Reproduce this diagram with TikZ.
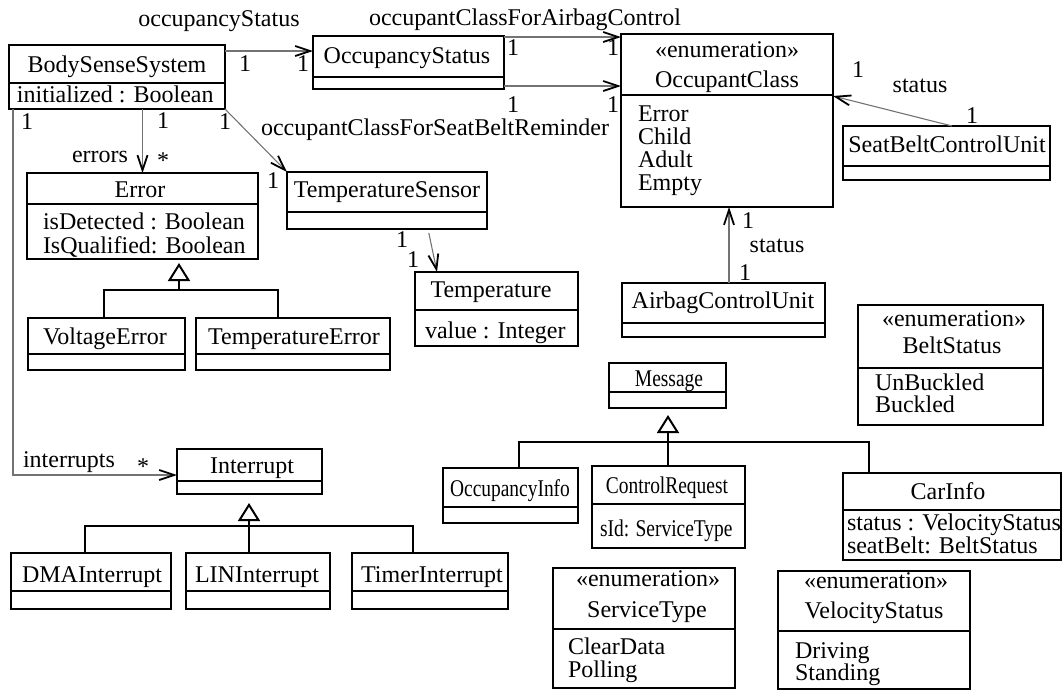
\documentclass[tikz,border=0pt]{standalone}
\usepackage{fontspec}
\usepackage{graphicx}
\setmainfont{Liberation Serif}
\usetikzlibrary{arrows.meta,fit}

% class box: name, left, top, right, divider, bottom (pixel units)
\newcommand{\umlbox}[6]{%
  \node[clsbox, fit={(#2,#3) (#4,#6)}] (#1) {};
  \draw[clsline] (#1.west |- 0,#5) -- (#1.east |- 0,#5);
}
% centred text on a baseline / left-aligned text on a baseline
\newcommand{\ctext}[4]{\node[txt] (#1) at (#2,#3) {#4};}
\newcommand{\ltext}[4]{\node[txt, anchor=base west] (#1) at (#2,#3) {#4};}
% horizontally condensed lettering
\newcommand{\narrowtext}[1]{\scalebox{0.81}[1]{#1}}

\begin{document}
\begin{tikzpicture}[x=0.5pt, y=-0.5pt,
  clsbox/.style={draw, line width=1.1pt, inner sep=0pt, outer sep=0pt},
  clsline/.style={line width=1.1pt},
  txt/.style={font=\fontsize{12}{14}\selectfont, inner sep=0pt, outer sep=0pt, anchor=base},
  assoc/.style={draw=black!55, line width=0.55pt,
    -{Straight Barb[length=7.5pt, width=5pt, line width=0.9pt, color=black]}},
  genl/.style={draw=black, line width=1pt},
  gentip/.style={genl, -{Triangle[open, length=9pt, width=11pt, line width=1pt]}}]
\useasboundingbox (0,0) rectangle (1062,691);

% ---- class boxes ----
\umlbox{bss}{9}{45}{225}{83}{109}
\umlbox{ost}{313}{36}{504}{77}{89}
\umlbox{occ}{621}{34}{833}{95}{207}
\umlbox{tsen}{287}{172}{487}{212}{229}
\umlbox{temp}{415}{272}{578}{310}{346}
\umlbox{err}{27}{173}{258}{204}{259}
\umlbox{verr}{28}{318}{185}{354}{370}
\umlbox{terr}{196}{318}{390}{354}{370}
\umlbox{sbcu}{843}{126}{1050}{166}{180}
\umlbox{acu}{622}{283}{825}{323}{337}
\umlbox{belt}{858}{305}{1043}{368}{425}
\umlbox{msg}{609}{363}{726}{392}{408}
\umlbox{oinfo}{443}{468}{578}{507}{523}
\umlbox{creq}{592}{466}{745}{504}{548}
\umlbox{cinfo}{843}{473}{1061}{510}{560}
\umlbox{stype}{553}{568}{735}{629}{688}
\umlbox{vstat}{778}{571}{970}{631}{689}
\umlbox{intr}{177}{449}{322}{481}{494}
\umlbox{dma}{11}{553}{171}{591}{609}
\umlbox{lin}{186}{553}{330}{591}{609}
\umlbox{timer}{352}{553}{508}{591}{609}

% ---- class contents ----
\ctext{bssN}{117}{72}{BodySenseSystem}
\ltext{bssA}{17}{102}{initialized : Boolean}
\ctext{ostN}{407}{63}{OccupancyStatus}
\ctext{occS}{727}{57}{«enumeration»}
\ctext{occN}{727}{87}{OccupantClass}
\ltext{occA1}{638}{121}{Error}
\ltext{occA2}{638}{144}{Child}
\ltext{occA3}{638}{167}{Adult}
\ltext{occA4}{638}{190}{Empty}
\ctext{tsenN}{387}{197}{TemperatureSensor}
\ctext{tempN}{491}{297}{Temperature}
\ltext{tempA}{425}{338}{value : Integer}
\ctext{errN}{140}{197}{Error}
\ltext{errA1}{43}{229}{isDetected : Boolean}
\ltext{errA2}{43}{253}{IsQualified: Boolean}
\ctext{verrN}{105}{344}{VoltageError}
\ctext{terrN}{294}{344}{TemperatureError}
\ctext{sbcuN}{947}{152}{SeatBeltControlUnit}
\ctext{acuN}{723}{308}{AirbagControlUnit}
\ctext{beltS}{954}{326}{«enumeration»}
\ctext{beltN}{952}{353}{BeltStatus}
\ltext{beltA1}{875}{390}{UnBuckled}
\ltext{beltA2}{875}{412}{Buckled}
\ctext{msgN}{669}{386}{\narrowtext{Message}}
\ctext{oinfoN}{510}{496}{\narrowtext{OccupancyInfo}}
\ctext{creqN}{667}{493}{\narrowtext{ControlRequest}}
\ltext{creqA}{600}{536}{\narrowtext{sId: ServiceType}}
\ctext{cinfoN}{948}{499}{CarInfo}
\ltext{cinfoA1}{847}{530}{status : VelocityStatus}
\ltext{cinfoA2}{847}{553}{seatBelt: BeltStatus}
\ctext{stypeS}{648}{586}{«enumeration»}
\ctext{stypeN}{647}{617}{ServiceType}
\ltext{stypeA1}{568}{654}{ClearData}
\ltext{stypeA2}{568}{677}{Polling}
\ctext{vstatS}{876}{588}{«enumeration»}
\ctext{vstatN}{874}{618}{VelocityStatus}
\ltext{vstatA1}{795}{658}{Driving}
\ltext{vstatA2}{795}{680}{Standing}
\ctext{intrN}{252}{473}{Interrupt}
\ctext{dmaN}{92}{582}{DMAInterrupt}
\ctext{linN}{257}{582}{LINInterrupt}
\ctext{timerN}{432}{582}{TimerInterrupt}

% ---- associations ----
\draw[assoc] (bss.east |- 0,51) -- (ost.west |- 0,51);
\draw[assoc] (ost.east |- 0,37) -- (occ.west |- 0,37);
\draw[assoc] (ost.east |- 0,86) -- (occ.west |- 0,86);
\draw[assoc] (bss.south east) -- (tsen.north west);
\draw[assoc] (err.north |- bss.south) -- (err.north);
\draw[assoc] (13,0 |- bss.south) |- (intr.west |- 0,475);
\draw[assoc, shorten <=2pt] (428,0 |- tsen.south) -- (437,0 |- temp.north);
\draw[assoc] (729,0 |- acu.north) -- (729,0 |- occ.south);
\draw[assoc] (952,0 |- sbcu.north) -- (occ.east |- 0,96);

% association roles
\ctext{lOS}{219}{26}{occupancyStatus}
\ctext{lAir}{525}{25}{occupantClassForAirbagControl}
\ctext{lSB}{435}{135}{occupantClassForSeatBeltReminder}
\ctext{lErr}{100}{162}{errors}
\ctext{lInt}{69}{467}{interrupts}
\ctext{lSt1}{777}{252}{status}
\ctext{lSt2}{920}{92}{status}

% multiplicities
\ctext{m1}{245}{71}{1}
\ctext{m2}{303}{71}{1}
\ctext{m3}{513}{55}{1}
\ctext{m4}{613}{55}{1}
\ctext{m5}{513}{112}{1}
\ctext{m6}{613}{112}{1}
\ctext{m7}{225}{129}{1}
\ctext{m8}{273}{188}{1}
\ctext{m9}{163}{128}{1}
\ctext{m10}{27}{129}{1}
\ctext{m11}{402}{247}{1}
\ctext{m12}{413}{267}{1}
\ctext{m13}{748}{228}{1}
\ctext{m14}{745}{280}{1}
\ctext{m15}{858}{77}{1}
\ctext{m16}{972}{123}{1}
\ctext{s1}{163}{168}{*}
\ctext{s2}{143}{474}{*}

% ---- generalizations ----
\draw[genl] (104,0 |- verr.north) |- (179,290) -| (278,0 |- terr.north);
\draw[gentip, shorten >=2pt] (179,290) -- (179,0 |- err.south);
\draw[genl] (519,0 |- oinfo.north) |- (869,442) -- (869,0 |- cinfo.north);
\draw[gentip, shorten >=3.5pt] (668,0 |- creq.north) -- (668,0 |- msg.south);
\draw[genl] (85,0 |- dma.north) |- (413,526) -- (413,0 |- timer.north);
\draw[gentip, shorten >=4.5pt] (249,0 |- lin.north) -- (249,0 |- intr.south);
\end{tikzpicture}
\end{document}
